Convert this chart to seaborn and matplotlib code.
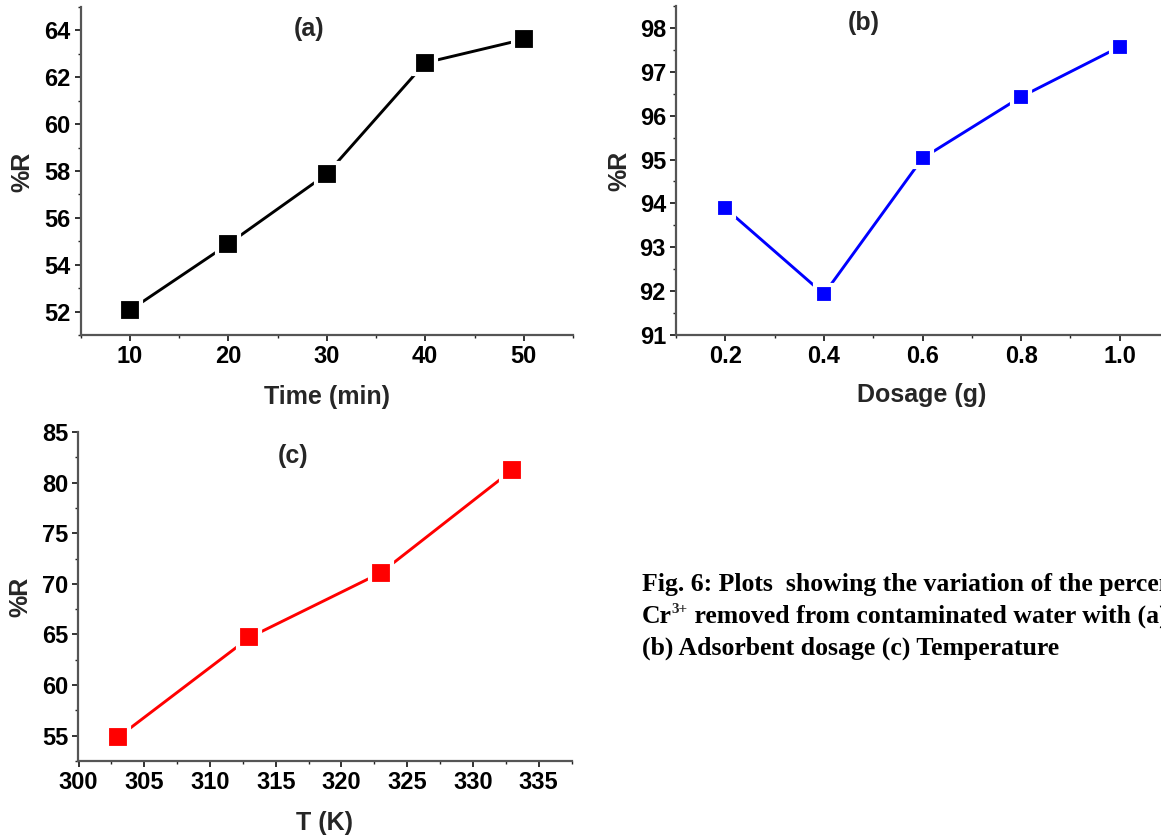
import numpy as np
import pandas as pd
import matplotlib
matplotlib.use("Agg")
import matplotlib.pyplot as plt
import seaborn as sns
from matplotlib.ticker import MultipleLocator, FormatStrFormatter

# ---- data ----
time_min = [10, 20, 30, 40, 50]
removal_time = [52.05, 54.88, 57.87, 62.62, 63.62]

dosage_g = [0.2, 0.4, 0.6, 0.8, 1.0]
removal_dosage = [93.89, 91.93, 95.03, 96.43, 97.57]

temp_k = [303, 313, 323, 333]
removal_temp = [54.83, 64.7, 71.1, 81.25]

panel_labels = ["(a)", "(b)", "(c)"]
x_labels = ["Time (min)", "Dosage (g)", "T (K)"]
y_label = "%R"
caption_line1 = "Fig. 6: Plots  showing the variation of the percentage of"
caption_line2 = ["Cr", "3+", " removed from contaminated water with (a) Time"]
caption_line3 = "(b) Adsorbent dosage (c) Temperature"

sns.set_style("ticks")
plt.rcParams["font.family"] = ["Liberation Sans", "DejaVu Sans"]
plt.rcParams["font.weight"] = "bold"

W, H = 1161, 838
fig = plt.figure(figsize=(W / 100, H / 100), dpi=100)


def px_axes(left, top, right, bottom):
    return fig.add_axes([left / W, 1 - bottom / H, (right - left) / W, (bottom - top) / H])


ax_a = px_axes(80.5, 7, 573, 335)
ax_b = px_axes(676, 6, 1169, 335)
ax_c = px_axes(78.5, 432, 571.5, 761)

spine_col = "#555555"
tick_col = "#222222"


def style(ax, xlim, ylim, xmaj, xmin, ymaj, ymin, xfmt, xlabel):
    sns.despine(ax=ax)
    ax.set_xlim(*xlim)
    ax.set_ylim(*ylim)
    ax.xaxis.set_major_locator(MultipleLocator(xmaj))
    ax.xaxis.set_minor_locator(MultipleLocator(xmin))
    ax.yaxis.set_major_locator(MultipleLocator(ymaj))
    ax.yaxis.set_minor_locator(MultipleLocator(ymin))
    ax.xaxis.set_major_formatter(FormatStrFormatter(xfmt))
    ax.yaxis.set_major_formatter(FormatStrFormatter("%d"))
    for s in ["left", "bottom"]:
        ax.spines[s].set_linewidth(1.6)
        ax.spines[s].set_color(spine_col)
    ax.tick_params(which="major", direction="out", length=4.2, width=1.3,
                   color=tick_col, labelsize=17, labelcolor="black")
    ax.tick_params(axis="y", which="major", pad=3)
    ax.tick_params(axis="x", which="major", pad=3)
    ax.tick_params(which="minor", direction="out", length=2.4, width=1.0, color=tick_col)
    for lab in ax.get_xticklabels() + ax.get_yticklabels():
        lab.set_fontweight("bold")
    ax.set_xlabel(xlabel, fontsize=18, fontweight="bold", va="center")
    ax.set_ylabel(y_label, fontsize=18, fontweight="bold", va="center")
    ax.set_facecolor("white")


line_kw = dict(lw=2.1, marker="s", mec="white", mew=3)

sns.lineplot(x=time_min, y=removal_time, ax=ax_a, color="black", ms=16.3, mfc="black", **line_kw)
sns.lineplot(x=dosage_g, y=removal_dosage, ax=ax_b, color="#0000FF", ms=13.2, mfc="#0000FF", **line_kw)
sns.lineplot(x=temp_k, y=removal_temp, ax=ax_c, color="#FF0000", ms=15.8, mfc="#FF0000", **line_kw)

style(ax_a, (5, 55), (51, 65), 10, 5, 2, 1, "%d", x_labels[0])
style(ax_b, (0.1, 1.1), (91, 98.5), 0.2, 0.1, 1, 0.5, "%.1f", x_labels[1])
style(ax_c, (300, 337.5), (52.5, 85), 5, 2.5, 5, 2.5, "%d", x_labels[2])

ax_a.xaxis.set_label_coords(0.5, -0.189)
ax_a.yaxis.set_label_coords(-0.118, 0.497)
ax_b.xaxis.set_label_coords(0.499, -0.183)
ax_b.yaxis.set_label_coords(-0.115, 0.50)
ax_c.xaxis.set_label_coords(0.5, -0.188)
ax_c.yaxis.set_label_coords(-0.117, 0.498)

# panel labels
for (px, py), lab in zip([(308.7, 29.3), (863.3, 23.3), (293.3, 455.8)], panel_labels):
    fig.text(px / W, 1 - py / H, lab, fontsize=18, fontweight="bold", ha="center", va="center")

# caption
serif = ["Liberation Serif", "DejaVu Serif"]
cap_kw = dict(fontsize=18.5, fontweight="bold", family=serif, color="black")
x0 = 641.5 / W
base1, base2, base3 = 591, 623, 655
fig.text(x0, 1 - base1 / H, caption_line1, ha="left", va="baseline", **cap_kw)
t_cr = fig.text(x0, 1 - base2 / H, caption_line2[0], ha="left", va="baseline", **cap_kw)
t_sup = ax_c.annotate(caption_line2[1], xy=(1, 1 - (base2 - 10.5) / H),
                      xycoords=(t_cr, "figure fraction"), ha="left", va="baseline",
                      annotation_clip=False, fontsize=11, fontweight="bold", family=serif)
ax_c.annotate(caption_line2[2], xy=(1, 1 - base2 / H),
              xycoords=(t_sup, "figure fraction"), ha="left", va="baseline",
              annotation_clip=False, **cap_kw)
fig.text(x0, 1 - base3 / H, caption_line3, ha="left", va="baseline", **cap_kw)

fig.savefig("out.png", dpi=100, facecolor="white")
